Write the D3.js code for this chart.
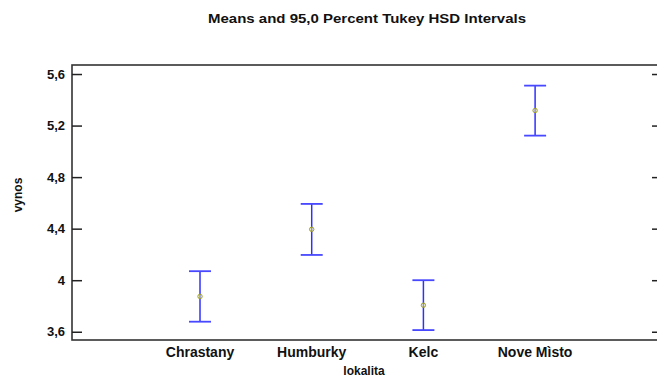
<!DOCTYPE html>
<html>
<head>
<meta charset="utf-8">
<script src="https://cdn.jsdelivr.net/npm/d3@7"></script>
<style>
  body { margin: 0; background: #fff; }
  text { font-family: "Liberation Sans", Arial, sans-serif; font-weight: bold; fill: #111; }
</style>
</head>
<body>
<div id="chart"></div>
<script>
// Data
const categories = ["Chrastany", "Humburky", "Kelc", "Nove Mìsto"];
const means = [3.874, 4.395, 3.806, 5.317];
const lower = [3.678, 4.196, 3.613, 5.122];
const upper = [4.07, 4.592, 4.0, 5.51];
const yTicks = [3.6, 4.0, 4.4, 4.8, 5.2, 5.6];

const width = 657, height = 378;
const plotLeft = 72, plotRight = 662, plotTop = 65, plotBottom = 340;

const svg = d3.select("#chart")
              .append("svg")
              .attr("width", width)
              .attr("height", height);

// Scales
const x = d3.scaleLinear().domain([-1.146, 4.136]).range([plotLeft, plotRight]);
const y = d3.scaleLinear().domain([3.536, 5.67]).range([plotBottom, plotTop]);
const fmt = d => String(d).replace(".", ",");

// Title
svg.append("text")
   .attr("x", 367).attr("y", 23)
   .attr("text-anchor", "middle")
   .attr("textLength", 318)
   .attr("lengthAdjust", "spacingAndGlyphs")
   .style("font-size", "13px")
   .text("Means and 95,0 Percent Tukey HSD Intervals");

// Frame
svg.append("rect")
   .attr("x", plotLeft).attr("y", plotTop)
   .attr("width", plotRight - plotLeft).attr("height", plotBottom - plotTop)
   .attr("fill", "none")
   .attr("stroke", "#333")
   .attr("stroke-width", 1.6);

// Left axis (ticks inward)
const yAxis = svg.append("g")
   .attr("transform", `translate(${plotLeft},0)`)
   .call(d3.axisRight(y).tickValues(yTicks).tickSize(10).tickFormat(""));
yAxis.select(".domain").remove();
yAxis.selectAll("line").attr("stroke", "#222").attr("stroke-width", 1.5);

svg.append("g").selectAll("text")
   .data(yTicks)
   .join("text")
   .attr("x", 65)
   .attr("y", d => y(d))
   .attr("dy", "0.36em")
   .attr("text-anchor", "end")
   .style("font-size", "13px")
   .text(fmt);

// Right axis (ticks inward)
const yAxisR = svg.append("g")
   .attr("transform", `translate(${plotRight},0)`)
   .call(d3.axisLeft(y).tickValues(yTicks).tickSize(10).tickFormat(""));
yAxisR.select(".domain").remove();
yAxisR.selectAll("line").attr("stroke", "#222").attr("stroke-width", 1.5);

// Category labels
svg.append("g").selectAll("text")
   .data(categories)
   .join("text")
   .attr("x", (d, i) => x(i))
   .attr("y", 357)
   .attr("text-anchor", "middle")
   .style("font-size", "14px")
   .text(d => d);

// Axis titles
svg.append("text")
   .attr("x", 364).attr("y", 375)
   .attr("text-anchor", "middle")
   .style("font-size", "12px")
   .text("lokalita");

svg.append("text")
   .attr("transform", "translate(22,195) rotate(-90)")
   .attr("text-anchor", "middle")
   .style("font-size", "12px")
   .text("vynos");

// Intervals
const bars = svg.append("g").selectAll("g")
   .data(categories)
   .join("g");

bars.append("line")
    .attr("x1", (d, i) => x(i)).attr("x2", (d, i) => x(i))
    .attr("y1", (d, i) => y(upper[i])).attr("y2", (d, i) => y(lower[i]))
    .attr("stroke", "#3030ff").attr("stroke-width", 1.5);

[upper, lower].forEach(arr => {
  bars.append("line")
      .attr("x1", (d, i) => x(i) - 11).attr("x2", (d, i) => x(i) + 11)
      .attr("y1", (d, i) => y(arr[i])).attr("y2", (d, i) => y(arr[i]))
      .attr("stroke", "#4848ff").attr("stroke-width", 1.8);
});

bars.append("circle")
    .attr("cx", (d, i) => x(i))
    .attr("cy", (d, i) => y(means[i]))
    .attr("r", 2.2)
    .attr("fill", "#e8e8a0")
    .attr("fill-opacity", 0.5)
    .attr("stroke", "#a0a028")
    .attr("stroke-width", 1);
</script>
</body>
</html>
